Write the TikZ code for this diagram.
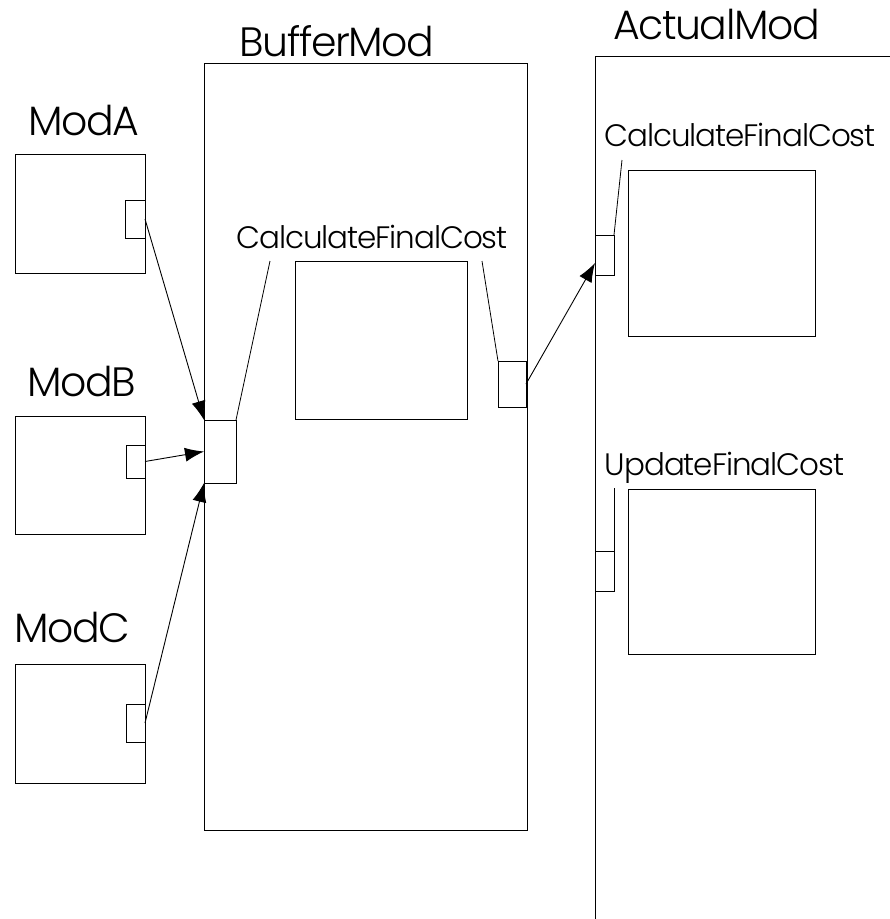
\documentclass[tikz,border=0pt]{standalone}
\usepackage{fontspec}
\setmainfont{Poppins Light}[LetterSpace=-3.5]
\usetikzlibrary{arrows.meta,calc}
\begin{document}
\begin{tikzpicture}[x=1pt,y=-1pt,
  line width=0.9pt,
  blk/.style={draw,rectangle,inner sep=0pt,outer sep=0pt},
  big/.style={inner sep=0pt,anchor=base,font=\fontsize{41}{44}\selectfont},
  small/.style={inner sep=0pt,anchor=base,font=\fontsize{31}{34}\selectfont},
  conn/.style={-{Latex[length=19pt,width=14pt]}},
  lead/.style={line width=0.8pt}]
\useasboundingbox (0,0) rectangle (890,919);
% ModA
\node[big] (labA) at (84,135) {ModA};
\node[blk,minimum width=130pt,minimum height=119pt] (modA) at (80,213.5) {};
\node[blk,minimum width=20pt,minimum height=38pt] (modAp) at (135,219) {};
% ModB
\node[big] (labB) at (81.5,396) {ModB};
\node[blk,minimum width=130pt,minimum height=118pt] (modB) at (80,475) {};
\node[blk,minimum width=19pt,minimum height=33pt] (modBp) at (135.5,461.5) {};
% ModC
\node[big] (labC) at (72.5,642) {ModC};
\node[blk,minimum width=130pt,minimum height=119pt] (modC) at (80,723.5) {};
\node[blk,minimum width=19pt,minimum height=38pt] (modCp) at (135.5,723) {};
% BufferMod
\node[big] (labBuf) at (337,56) {BufferMod};
\node[blk,minimum width=323pt,minimum height=767pt] (buf) at (365.5,446.5) {};
\node[blk,minimum width=32pt,minimum height=63pt] (bufL) at (220,451.5) {};
\node[blk,minimum width=172pt,minimum height=158pt] (bufIn) at (381,340) {};
\node[blk,minimum width=28pt,minimum height=46pt] (bufR) at (512,384) {};
\node[small] (labBufC) at (372,248) {CalculateFinalCost};
\coordinate (ldA) at (270,261);
\coordinate (ldB) at (482,261);
\draw[lead] (ldA) -- (bufL.north east);
\draw[lead] (ldB) -- (bufR.north west);
% ActualMod
\node[big] (labAct) at (716.5,39) {ActualMod};
\coordinate (actBL) at (595,919);
\coordinate (actTL) at (595,56);
\coordinate (actTR) at (890,56);
\draw (actBL) -- (actTL) -- (actTR);
\node[small] (labActC) at (740,146) {CalculateFinalCost};
\node[blk,minimum width=187pt,minimum height=166pt] (actIn1) at (721.5,253) {};
\node[blk,minimum width=19pt,minimum height=40pt] (actP1) at (604.5,255) {};
\coordinate (ldC) at (622,160);
\draw[lead] (ldC) -- (actP1.north east);
\node[small] (labUpd) at (724.5,475) {UpdateFinalCost};
\node[blk,minimum width=187pt,minimum height=165pt] (actIn2) at (721.5,571.5) {};
\node[blk,minimum width=19pt,minimum height=40pt] (actP2) at (604.5,571) {};
\coordinate (ldD) at (614,488);
\draw[lead] (ldD) -- (actP2.north east);
% connectors
\draw[conn] (modAp.east) -- (bufL.north west);
\draw[conn] (modBp.east) -- (bufL.west);
\draw[conn] (modCp.east) -- (bufL.south west);
\draw[conn] (bufR.east) -- ($(actP1.west)+(0,8)$);
\end{tikzpicture}
\end{document}
